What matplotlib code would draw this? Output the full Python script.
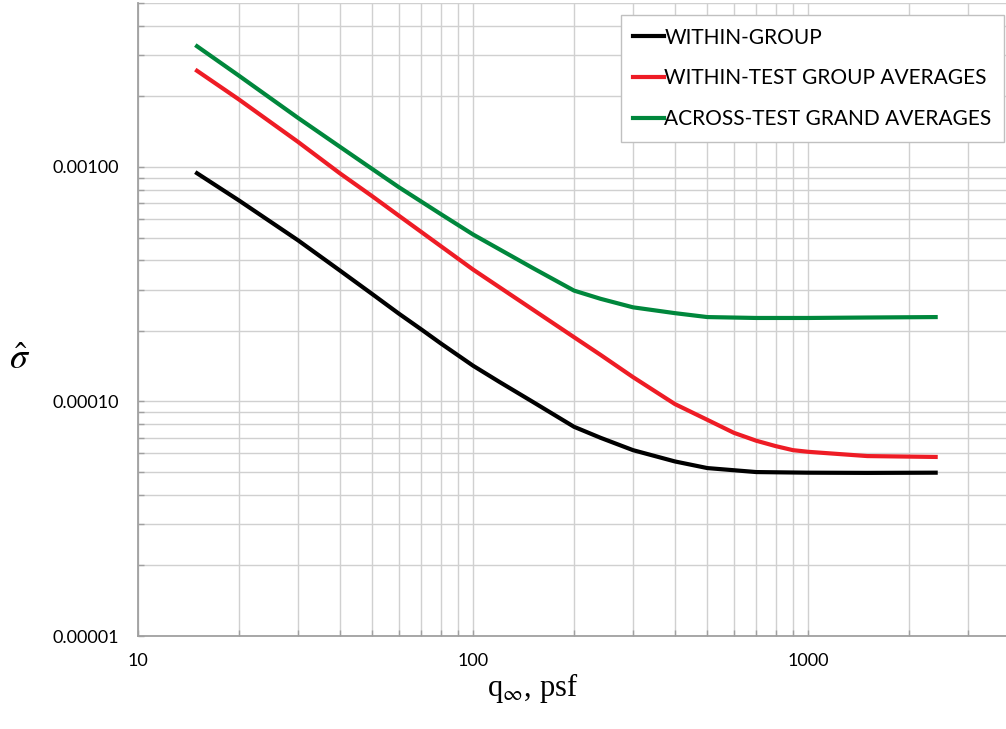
import numpy as np
import matplotlib
matplotlib.use("Agg")
import matplotlib.pyplot as plt
from matplotlib.ticker import FixedLocator, FuncFormatter, NullFormatter

# dynamic pressure, psf  /  sigma-hat
q_black = [15, 20, 30, 40, 50, 60, 70, 80, 100, 120, 150, 200, 240, 300, 400, 500,
           700, 1000, 1500, 2400]
s_black = [9.4e-4, 7.2e-4, 4.87e-4, 3.62e-4, 2.87e-4, 2.37e-4, 2.03e-4, 1.77e-4,
           1.42e-4, 1.21e-4, 1.0e-4, 7.8e-5, 7.0e-5, 6.2e-5, 5.55e-5, 5.2e-5,
           5.0e-5, 4.97e-5, 4.96e-5, 4.97e-5]

q_red = [15, 20, 30, 40, 50, 60, 80, 100, 200, 240, 300, 400, 500, 600, 700, 800,
         900, 1000, 1500, 2400]
s_red = [2.57e-3, 1.94e-3, 1.28e-3, 9.4e-4, 7.5e-4, 6.2e-4, 4.6e-4, 3.65e-4,
         1.88e-4, 1.58e-4, 1.27e-4, 9.75e-5, 8.35e-5, 7.35e-5, 6.8e-5, 6.45e-5,
         6.2e-5, 6.1e-5, 5.85e-5, 5.8e-5]

q_green = [15, 20, 30, 40, 50, 60, 80, 100, 150, 200, 240, 300, 400, 500, 700,
           1000, 1500, 2400]
s_green = [3.27e-3, 2.45e-3, 1.62e-3, 1.22e-3, 9.8e-4, 8.2e-4, 6.3e-4, 5.15e-4,
           3.72e-4, 2.97e-4, 2.74e-4, 2.52e-4, 2.38e-4, 2.29e-4, 2.27e-4,
           2.27e-4, 2.28e-4, 2.29e-4]

labels = ["WITHIN-GROUP", "WITHIN-TEST GROUP AVERAGES", "ACROSS-TEST GRAND AVERAGES"]
colors = ["#000000", "#ee1c25", "#00873c"]

plt.rcParams['font.family'] = ['Lato', 'DejaVu Sans']
plt.rcParams['mathtext.fontset'] = 'stix'

fig = plt.figure(figsize=(10.06, 7.29), dpi=100)
ax = fig.add_axes([138 / 1006, 93 / 729, (1010 - 138) / 1006, (636 - 3) / 729])

ax.plot(q_black, s_black, color=colors[0], lw=3.0, label=labels[0])
ax.plot(q_red, s_red, color=colors[1], lw=3.0, label=labels[1])
ax.plot(q_green, s_green, color=colors[2], lw=3.0, label=labels[2])

ax.set_xscale('log')
ax.set_yscale('log')
ax.set_xlim(10, 4000)
ax.set_ylim(1e-5, 5e-3)

ax.xaxis.set_major_locator(FixedLocator([10, 100, 1000]))
ax.xaxis.set_minor_locator(FixedLocator([m * d for d in [10, 100, 1000] for m in range(2, 10)]))
ax.yaxis.set_major_locator(FixedLocator([1e-5, 1e-4, 1e-3]))
ax.yaxis.set_minor_locator(FixedLocator([m * d for d in [1e-5, 1e-4, 1e-3] for m in range(2, 10)]))
ax.xaxis.set_major_formatter(FuncFormatter(lambda v, p: f"{v:.0f}"))
ax.yaxis.set_major_formatter(FuncFormatter(lambda v, p: f"{v:.5f}"))
ax.xaxis.set_minor_formatter(NullFormatter())
ax.yaxis.set_minor_formatter(NullFormatter())

ax.grid(True, which='both', color='#d0d0d0', lw=1.0)
ax.set_axisbelow(True)
for s in ['top', 'right']:
    ax.spines[s].set_visible(False)
for s in ['left', 'bottom']:
    ax.spines[s].set_color('#a0a0a0')
    ax.spines[s].set_linewidth(1.3)
ax.tick_params(which='both', direction='in', color='#a0a0a0', length=4, width=1)
ax.tick_params(axis='x', which='major', pad=12, labelsize=13)
ax.tick_params(axis='y', which='major', pad=14, labelsize=13)

fig.text(533 / 1006, 1 - 688 / 729, r'q$_{\infty}$, psf', family='Liberation Serif',
         fontsize=22, ha='center', va='center')
fig.text(20 / 1006, 1 - 358 / 729, r'$\hat{\sigma}$', fontsize=26, ha='center', va='center')

leg = ax.legend(loc='upper right', bbox_to_anchor=(1004 / 1006, 1 - 15 / 729),
                bbox_transform=fig.transFigure, borderaxespad=0, fancybox=False,
                frameon=True, edgecolor='#c0c0c0', fontsize=15, handlelength=1.5,
                handletextpad=0.0, labelspacing=1.0, borderpad=0.6, framealpha=1)
leg.get_frame().set_linewidth(1.0)

fig.savefig('out.png', dpi=100)
